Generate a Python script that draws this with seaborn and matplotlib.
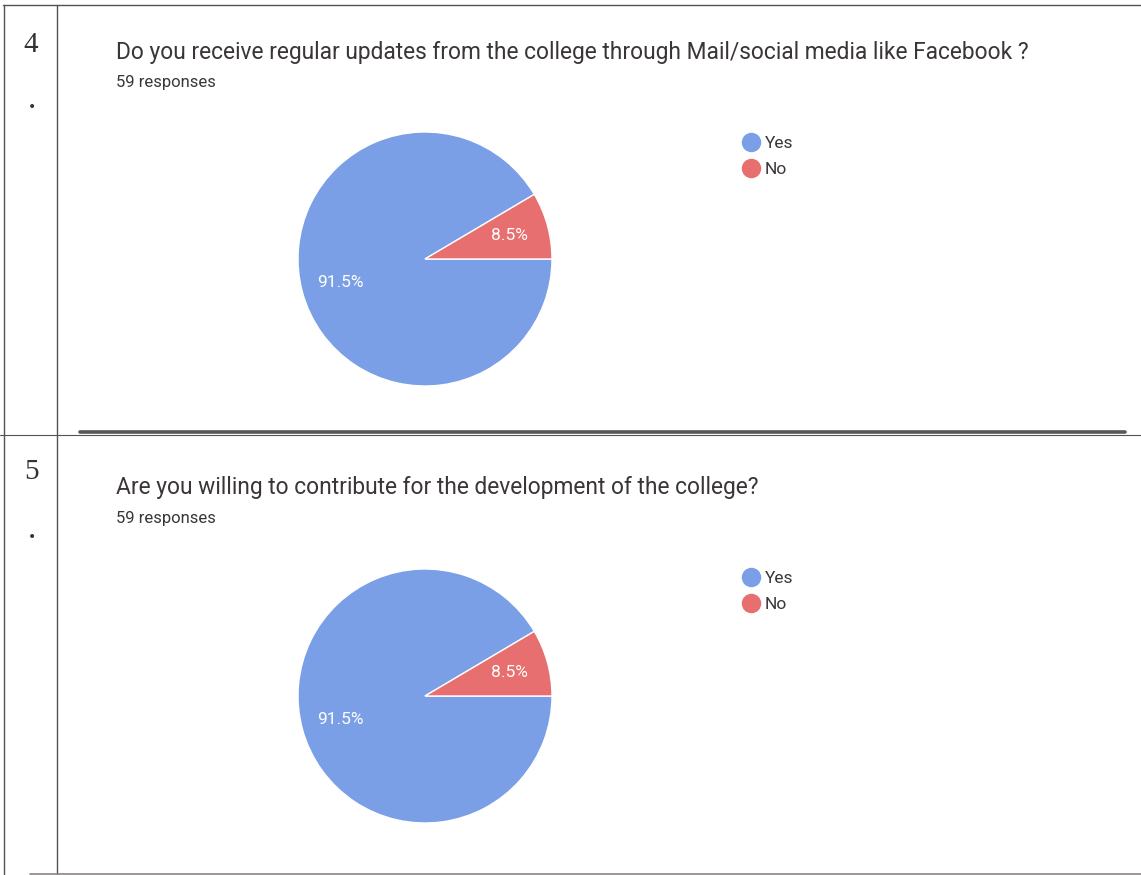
import numpy as np
import matplotlib
matplotlib.use("Agg")
import matplotlib.pyplot as plt
from matplotlib.lines import Line2D
import seaborn as sns

# data
questions = [
    "Do you receive regular updates from the college through Mail/social media like Facebook ?",
    "Are you willing to contribute for the development of the college?",
]
numbers = ["4", "5"]
responses = ["59 responses", "59 responses"]
labels = ["Yes", "No"]
shares_q4 = [91.5, 8.5]
shares_q5 = [91.5, 8.5]
colors = ["#7a9fe6", "#e76f6f"]

sns.set_theme(style="white")
plt.rcParams['font.family'] = ['Roboto', 'DejaVu Sans']

W, H = 1141, 875
fig = plt.figure(figsize=(W / 100, H / 100), dpi=100)
fig.patch.set_facecolor("white")

def fx(px):
    return px / W

def fy(py):
    return 1 - py / H

# table lines
line_col = "#555055"
def hline(x0, x1, y, lw=1.0, c=line_col):
    fig.add_artist(Line2D([fx(x0), fx(x1)], [fy(y), fy(y)], color=c, lw=lw))

def vline(x, y0, y1, lw=1.0, c=line_col):
    fig.add_artist(Line2D([fx(x), fx(x)], [fy(y0), fy(y1)], color=c, lw=lw))

hline(3, 1141, 5)
vline(4, 5, 875)
vline(57, 5, 875)
hline(0, 1141, 435, lw=0.8)
hline(80, 1125, 432, lw=2.6, c="#5a5558")
hline(30, 1141, 874, lw=1.2, c="#8a8588")

row_y = [0, 435]
num_y = [45, 472]
dot_y = [101, 531]
pie_y = [259, 696]
shares = [shares_q4, shares_q5]
for i in range(2):
    oy = row_y[i]
    fig.text(fx(31), fy(num_y[i]), numbers[i], family="Liberation Serif", fontsize=21,
             color="#333", ha="center", va="center")
    fig.text(fx(32), fy(dot_y[i]), ".", family="Liberation Serif", fontsize=18,
             fontweight="bold", color="#333", ha="center", va="center")
    fig.text(fx(116), fy(oy + 52), questions[i], fontsize=16.4, color="#3a3538",
             ha="left", va="center")
    fig.text(fx(116), fy(oy + 83), responses[i], fontsize=12, color="#3a3538",
             ha="left", va="center")

    cx, cy, r = 425, pie_y[i], 127
    ax = fig.add_axes([fx(cx - r), fy(cy + r), 2 * r / W, 2 * r / H])
    wedges, texts, autotexts = ax.pie(
        shares[i], colors=colors, startangle=0, counterclock=False,
        autopct="%.1f%%", pctdistance=0.69,
        wedgeprops=dict(edgecolor="white", linewidth=1.0),
        textprops=dict(color="white", fontsize=12.5))
    ax.set_xlim(-1, 1)
    ax.set_ylim(-1, 1)
    ax.set_aspect("equal")
    ax.axis("off")

    handles = [Line2D([], [], marker="o", linestyle="", markersize=13,
                      markerfacecolor=c, markeredgecolor=c) for c in colors]
    fig.legend(handles, labels, loc="upper left",
               bbox_to_anchor=(fx(729), fy(oy + 127)), frameon=False,
               fontsize=12.5, handletextpad=0.05, labelspacing=0.62,
               borderpad=0, handlelength=1.5, labelcolor="#3a3538")

fig.savefig("out.png", dpi=100, facecolor="white")
